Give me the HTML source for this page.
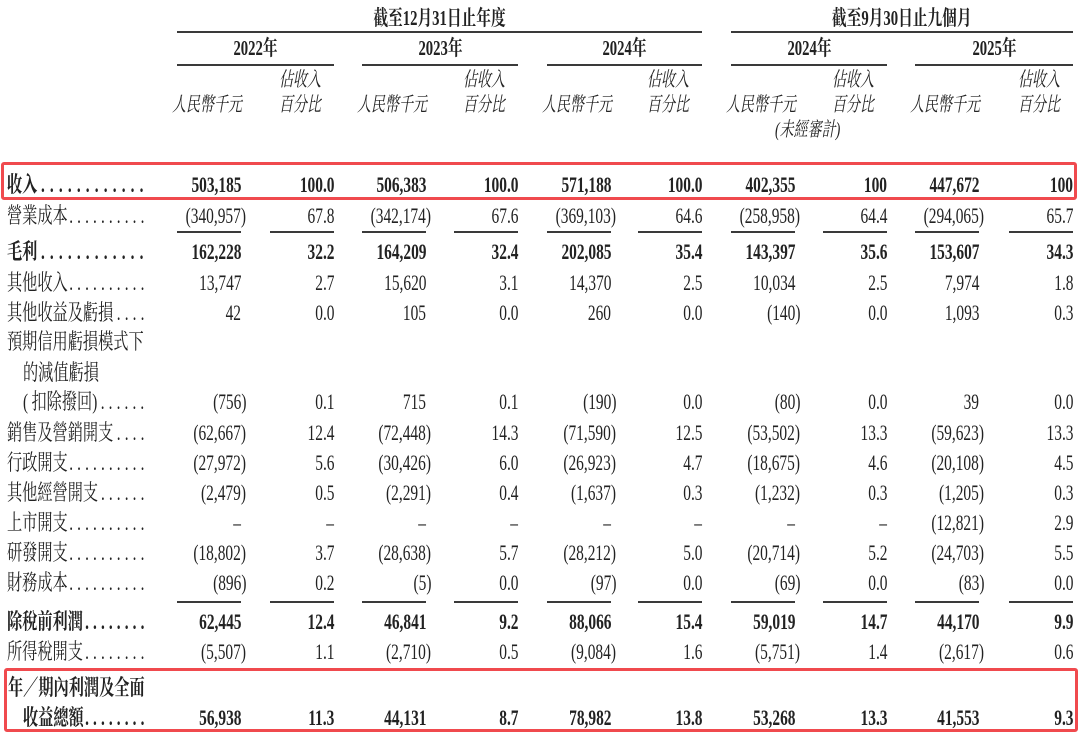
<!DOCTYPE html>
<html><head><meta charset="utf-8"><style>
*{box-sizing:border-box}
body{margin:0;width:1080px;height:732px;overflow:hidden;background:#fff;position:relative;font-family:"Liberation Serif","Noto Serif CJK SC",serif;color:#222}
.r{position:absolute;left:0;width:1080px;height:30px}
.v{position:absolute;top:0;font-size:22px;line-height:30px;transform:scaleX(.7);transform-origin:100% 50%;white-space:nowrap}
.v i{font-style:normal;position:absolute;left:100%;top:0}
.b .v,.b .l{font-weight:bold}
.l{position:absolute;left:7px;top:0;width:205px;display:flex;font-size:22px;line-height:30px;transform:scaleX(.69);transform-origin:0 50%;white-space:nowrap}
.l.ind{left:23px;width:182px}
.d{flex:1 1 0;min-width:0;overflow:hidden;direction:rtl;letter-spacing:6px}
.b .d{letter-spacing:7.5px;margin-left:6px}
.c1{right:839px}.c2{right:746px}.c3{right:654px}.c4{right:562px}.c5{right:469px}
.c6{right:378px}.c7{right:285px}.c8{right:193px}.c9{right:101px}.c10{right:7px}
.hl{position:absolute;height:2px;background:#3a3a3a}
.hc{position:absolute;text-align:center;font-size:21px;line-height:30px;font-weight:bold;white-space:nowrap}
.hc span{display:inline-block;transform:scaleX(.7);transform-origin:50% 50%}
.hi{position:absolute;font-size:20px;line-height:30px;font-style:italic;transform:scaleX(.7);transform-origin:100% 50%;white-space:nowrap}
.box{position:absolute;border:3px solid #f04a4e;border-radius:3px}
</style></head><body>

<!-- header -->
<div class="hc" style="left:177px;width:525px;top:3px"><span>截至12月31日止年度</span></div>
<div class="hc" style="left:731px;width:342px;top:3px"><span>截至9月30日止九個月</span></div>
<div class="hl" style="left:177px;width:525px;top:31px"></div>
<div class="hl" style="left:731px;width:342px;top:31px"></div>

<div class="hc" style="left:177px;width:157px;top:33px"><span>2022年</span></div>
<div class="hc" style="left:362px;width:156px;top:33px"><span>2023年</span></div>
<div class="hc" style="left:547px;width:155px;top:33px"><span>2024年</span></div>
<div class="hc" style="left:731px;width:156px;top:33px"><span>2024年</span></div>
<div class="hc" style="left:915px;width:158px;top:33px"><span>2025年</span></div>

<div class="hl" style="left:177px;width:157px;top:64px"></div>
<div class="hl" style="left:362px;width:156px;top:64px"></div>
<div class="hl" style="left:547px;width:155px;top:64px"></div>
<div class="hl" style="left:731px;width:156px;top:64px"></div>
<div class="hl" style="left:915px;width:158px;top:64px"></div>

<div class="hi" style="right:759px;top:65px">佔收入</div>
<div class="hi" style="right:575px;top:65px">佔收入</div>
<div class="hi" style="right:391px;top:65px">佔收入</div>
<div class="hi" style="right:206px;top:65px">佔收入</div>
<div class="hi" style="right:20px;top:65px">佔收入</div>

<div class="hi" style="right:838px;top:90px">人民幣千元</div>
<div class="hi" style="right:653px;top:90px">人民幣千元</div>
<div class="hi" style="right:468px;top:90px">人民幣千元</div>
<div class="hi" style="right:284px;top:90px">人民幣千元</div>
<div class="hi" style="right:100px;top:90px">人民幣千元</div>

<div class="hi" style="right:759px;top:90px">百分比</div>
<div class="hi" style="right:575px;top:90px">百分比</div>
<div class="hi" style="right:391px;top:90px">百分比</div>
<div class="hi" style="right:206px;top:90px">百分比</div>
<div class="hi" style="right:20px;top:90px">百分比</div>

<div class="hi" style="right:240px;top:115px">(未經審計)</div>

<!-- red boxes -->
<div class="box" style="left:1px;top:162px;width:1076px;height:38px"></div>
<div class="box" style="left:4px;top:668px;width:1074px;height:64px"></div>

<!-- rows -->
<div class="r b" style="top:170px"><div class="l">收入<span class="d">..............................</span></div>
<div class="v c1">503,185</div><div class="v c2">100.0</div><div class="v c3">506,383</div><div class="v c4">100.0</div><div class="v c5">571,188</div><div class="v c6">100.0</div><div class="v c7">402,355</div><div class="v c8">100</div><div class="v c9">447,672</div><div class="v c10">100</div></div>

<div class="r" style="top:201px"><div class="l">營業成本<span class="d">..............................</span></div>
<div class="v c1">(340,957<i>)</i></div><div class="v c2">67.8</div><div class="v c3">(342,174<i>)</i></div><div class="v c4">67.6</div><div class="v c5">(369,103<i>)</i></div><div class="v c6">64.6</div><div class="v c7">(258,958<i>)</i></div><div class="v c8">64.4</div><div class="v c9">(294,065<i>)</i></div><div class="v c10">65.7</div></div>

<div class="hl" style="left:177px;width:64px;top:231px"></div>
<div class="hl" style="left:270px;width:64px;top:231px"></div>
<div class="hl" style="left:362px;width:64px;top:231px"></div>
<div class="hl" style="left:454px;width:64px;top:231px"></div>
<div class="hl" style="left:547px;width:64px;top:231px"></div>
<div class="hl" style="left:638px;width:64px;top:231px"></div>
<div class="hl" style="left:731px;width:64px;top:231px"></div>
<div class="hl" style="left:823px;width:64px;top:231px"></div>
<div class="hl" style="left:915px;width:64px;top:231px"></div>
<div class="hl" style="left:1009px;width:64px;top:231px"></div>

<div class="r b" style="top:237px"><div class="l">毛利<span class="d">..............................</span></div>
<div class="v c1">162,228</div><div class="v c2">32.2</div><div class="v c3">164,209</div><div class="v c4">32.4</div><div class="v c5">202,085</div><div class="v c6">35.4</div><div class="v c7">143,397</div><div class="v c8">35.6</div><div class="v c9">153,607</div><div class="v c10">34.3</div></div>

<div class="r" style="top:268px"><div class="l">其他收入<span class="d">..............................</span></div>
<div class="v c1">13,747</div><div class="v c2">2.7</div><div class="v c3">15,620</div><div class="v c4">3.1</div><div class="v c5">14,370</div><div class="v c6">2.5</div><div class="v c7">10,034</div><div class="v c8">2.5</div><div class="v c9">7,974</div><div class="v c10">1.8</div></div>

<div class="r" style="top:298px"><div class="l">其他收益及虧損<span class="d">..............................</span></div>
<div class="v c1">42</div><div class="v c2">0.0</div><div class="v c3">105</div><div class="v c4">0.0</div><div class="v c5">260</div><div class="v c6">0.0</div><div class="v c7">(140<i>)</i></div><div class="v c8">0.0</div><div class="v c9">1,093</div><div class="v c10">0.3</div></div>

<div class="r" style="top:327px"><div class="l">預期信用虧損模式下</div></div>
<div class="r" style="top:358px"><div class="l ind">的減值虧損</div></div>

<div class="r" style="top:387px"><div class="l ind"><span style="margin-right:5px">(</span>扣除撥回)<span class="d">..............................</span></div>
<div class="v c1">(756<i>)</i></div><div class="v c2">0.1</div><div class="v c3">715</div><div class="v c4">0.1</div><div class="v c5">(190<i>)</i></div><div class="v c6">0.0</div><div class="v c7">(80<i>)</i></div><div class="v c8">0.0</div><div class="v c9">39</div><div class="v c10">0.0</div></div>

<div class="r" style="top:418px"><div class="l">銷售及營銷開支<span class="d">..............................</span></div>
<div class="v c1">(62,667<i>)</i></div><div class="v c2">12.4</div><div class="v c3">(72,448<i>)</i></div><div class="v c4">14.3</div><div class="v c5">(71,590<i>)</i></div><div class="v c6">12.5</div><div class="v c7">(53,502<i>)</i></div><div class="v c8">13.3</div><div class="v c9">(59,623<i>)</i></div><div class="v c10">13.3</div></div>

<div class="r" style="top:448px"><div class="l">行政開支<span class="d">..............................</span></div>
<div class="v c1">(27,972<i>)</i></div><div class="v c2">5.6</div><div class="v c3">(30,426<i>)</i></div><div class="v c4">6.0</div><div class="v c5">(26,923<i>)</i></div><div class="v c6">4.7</div><div class="v c7">(18,675<i>)</i></div><div class="v c8">4.6</div><div class="v c9">(20,108<i>)</i></div><div class="v c10">4.5</div></div>

<div class="r" style="top:478px"><div class="l">其他經營開支<span class="d">..............................</span></div>
<div class="v c1">(2,479<i>)</i></div><div class="v c2">0.5</div><div class="v c3">(2,291<i>)</i></div><div class="v c4">0.4</div><div class="v c5">(1,637<i>)</i></div><div class="v c6">0.3</div><div class="v c7">(1,232<i>)</i></div><div class="v c8">0.3</div><div class="v c9">(1,205<i>)</i></div><div class="v c10">0.3</div></div>

<div class="r" style="top:508px"><div class="l">上市開支<span class="d">..............................</span></div>
<div class="v c1">–</div><div class="v c2">–</div><div class="v c3">–</div><div class="v c4">–</div><div class="v c5">–</div><div class="v c6">–</div><div class="v c7">–</div><div class="v c8">–</div><div class="v c9">(12,821<i>)</i></div><div class="v c10">2.9</div></div>

<div class="r" style="top:538px"><div class="l">研發開支<span class="d">..............................</span></div>
<div class="v c1">(18,802<i>)</i></div><div class="v c2">3.7</div><div class="v c3">(28,638<i>)</i></div><div class="v c4">5.7</div><div class="v c5">(28,212<i>)</i></div><div class="v c6">5.0</div><div class="v c7">(20,714<i>)</i></div><div class="v c8">5.2</div><div class="v c9">(24,703<i>)</i></div><div class="v c10">5.5</div></div>

<div class="r" style="top:568px"><div class="l">財務成本<span class="d">..............................</span></div>
<div class="v c1">(896<i>)</i></div><div class="v c2">0.2</div><div class="v c3">(5<i>)</i></div><div class="v c4">0.0</div><div class="v c5">(97<i>)</i></div><div class="v c6">0.0</div><div class="v c7">(69<i>)</i></div><div class="v c8">0.0</div><div class="v c9">(83<i>)</i></div><div class="v c10">0.0</div></div>

<div class="hl" style="left:177px;width:64px;top:601px"></div>
<div class="hl" style="left:270px;width:64px;top:601px"></div>
<div class="hl" style="left:362px;width:64px;top:601px"></div>
<div class="hl" style="left:454px;width:64px;top:601px"></div>
<div class="hl" style="left:547px;width:64px;top:601px"></div>
<div class="hl" style="left:638px;width:64px;top:601px"></div>
<div class="hl" style="left:731px;width:64px;top:601px"></div>
<div class="hl" style="left:823px;width:64px;top:601px"></div>
<div class="hl" style="left:915px;width:64px;top:601px"></div>
<div class="hl" style="left:1009px;width:64px;top:601px"></div>

<div class="r b" style="top:607px"><div class="l">除稅前利潤<span class="d" style="letter-spacing:6px;margin-left:0">..............................</span></div>
<div class="v c1">62,445</div><div class="v c2">12.4</div><div class="v c3">46,841</div><div class="v c4">9.2</div><div class="v c5">88,066</div><div class="v c6">15.4</div><div class="v c7">59,019</div><div class="v c8">14.7</div><div class="v c9">44,170</div><div class="v c10">9.9</div></div>

<div class="r" style="top:637px"><div class="l">所得稅開支<span class="d">..............................</span></div>
<div class="v c1">(5,507<i>)</i></div><div class="v c2">1.1</div><div class="v c3">(2,710<i>)</i></div><div class="v c4">0.5</div><div class="v c5">(9,084<i>)</i></div><div class="v c6">1.6</div><div class="v c7">(5,751<i>)</i></div><div class="v c8">1.4</div><div class="v c9">(2,617<i>)</i></div><div class="v c10">0.6</div></div>

<div class="r b" style="top:673px"><div class="l" style="left:8px">年／期內利潤及全面</div></div>

<div class="r b" style="top:703px"><div class="l ind">收益總額<span class="d" style="letter-spacing:6px;margin-left:0">..............................</span></div>
<div class="v c1">56,938</div><div class="v c2">11.3</div><div class="v c3">44,131</div><div class="v c4">8.7</div><div class="v c5">78,982</div><div class="v c6">13.8</div><div class="v c7">53,268</div><div class="v c8">13.3</div><div class="v c9">41,553</div><div class="v c10">9.3</div></div>

</body></html>
